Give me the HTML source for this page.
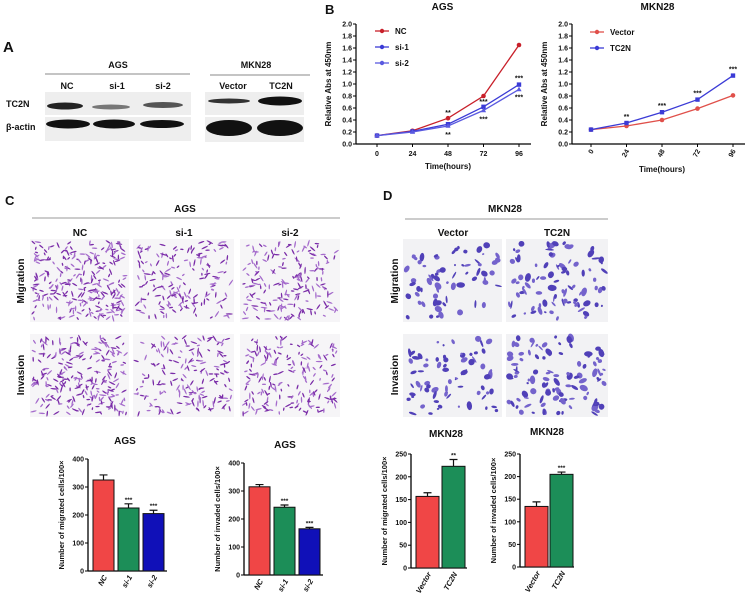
<!DOCTYPE html>
<html><head><meta charset="utf-8"><style>
html,body{margin:0;padding:0;background:#fff;width:753px;height:602px;overflow:hidden}
svg{display:block;font-family:"Liberation Sans",sans-serif}
text{font-weight:bold;fill:#111}
</style></head><body>
<svg id="fig" width="753" height="602" viewBox="0 0 753 602">
<g>
<text x="3" y="52" font-size="15" font-weight="normal">A</text>
<text x="118" y="68" font-size="9" text-anchor="middle">AGS</text>
<line x1="45" y1="74" x2="190" y2="74" stroke="#888"/>
<text x="256" y="68" font-size="9" text-anchor="middle">MKN28</text>
<line x1="210" y1="75" x2="310" y2="75" stroke="#888"/>
<text x="67" y="89" font-size="9" text-anchor="middle">NC</text>
<text x="117" y="89" font-size="9" text-anchor="middle">si-1</text>
<text x="163" y="89" font-size="9" text-anchor="middle">si-2</text>
<text x="233" y="89" font-size="9" text-anchor="middle">Vector</text>
<text x="281" y="89" font-size="9" text-anchor="middle">TC2N</text>
<text x="6" y="107" font-size="9">TC2N</text>
<text x="6" y="130" font-size="9">β-actin</text>
<rect x="45" y="92" width="146" height="23" fill="#eee"/>
<rect x="45" y="117" width="146" height="24" fill="#eee"/>
<rect x="205" y="92" width="99" height="23" fill="#eee"/>
<rect x="205" y="117" width="99" height="25" fill="#eee"/>
<ellipse cx="65" cy="106" rx="18" ry="3.5" fill="#222"/>
<ellipse cx="111" cy="107" rx="19" ry="2.5" fill="#777"/>
<ellipse cx="163" cy="105" rx="20" ry="3" fill="#555"/>
<ellipse cx="68" cy="124" rx="22" ry="4.5" fill="#111"/>
<ellipse cx="114" cy="124" rx="21" ry="4.5" fill="#111"/>
<ellipse cx="162" cy="124" rx="22" ry="4" fill="#111"/>
<ellipse cx="229" cy="101" rx="21" ry="2.5" fill="#333"/>
<ellipse cx="280" cy="101" rx="22" ry="4.5" fill="#111"/>
<ellipse cx="229" cy="128" rx="23" ry="8" fill="#111"/>
<ellipse cx="280" cy="128" rx="23" ry="8" fill="#111"/>
</g>
<text x="325" y="14" font-size="13" font-weight="normal">B</text>
<text x="5" y="205" font-size="13" font-weight="normal">C</text>
<text x="383" y="200" font-size="13" font-weight="normal">D</text>
<g id="micro">
<text x="185" y="212" font-size="10" text-anchor="middle">AGS</text>
<line x1="32" y1="218" x2="340" y2="218" stroke="#999"/>
<text x="80" y="236" font-size="10" text-anchor="middle">NC</text>
<text x="184" y="236" font-size="10" text-anchor="middle">si-1</text>
<text x="290" y="236" font-size="10" text-anchor="middle">si-2</text>
<text x="505" y="212" font-size="10" text-anchor="middle">MKN28</text>
<line x1="405" y1="219" x2="608" y2="219" stroke="#999"/>
<text x="453" y="236" font-size="10" text-anchor="middle">Vector</text>
<text x="557" y="236" font-size="10" text-anchor="middle">TC2N</text>
<text transform="translate(24,281) rotate(-90)" font-size="10" text-anchor="middle">Migration</text>
<text transform="translate(24,375) rotate(-90)" font-size="10" text-anchor="middle">Invasion</text>
<text transform="translate(398,281) rotate(-90)" font-size="10" text-anchor="middle">Migration</text>
<text transform="translate(398,375) rotate(-90)" font-size="10" text-anchor="middle">Invasion</text>
</g>
<g id="charts"></g>
</svg>
<script>
const timePoints=[0,24,48,72,96];
const agsNC=[0.14,0.22,0.43,0.80,1.65];
const agsSi1=[0.14,0.21,0.33,0.62,0.99];
const agsSi2=[0.14,0.20,0.30,0.56,0.91];
const mknVector=[0.24,0.30,0.40,0.59,0.81];
const mknTC2N=[0.24,0.35,0.53,0.74,1.14];
const lineYTicks=[0,0.2,0.4,0.6,0.8,1.0,1.2,1.4,1.6,1.8,2.0];
const agsGroups=["NC","si-1","si-2"];
const migAGS=[325,225,205]; const migAGSErr=[18,15,12];
const invAGS=[315,242,165]; const invAGSErr=[8,8,5];
const mknGroups=["Vector","TC2N"];
const migMKN=[157,223]; const migMKNErr=[8,15];
const invMKN=[134,205]; const invMKNErr=[10,5];
const agsStars=["","***","***"]; const mknMigStars=["","**"]; const mknInvStars=["","***"];

const NS="http://www.w3.org/2000/svg";
const root=document.getElementById('charts');
function mk(tag,attrs,parent,txt){const e=document.createElementNS(NS,tag);for(const k in attrs)e.setAttribute(k,attrs[k]);if(txt!==undefined)e.textContent=txt;(parent||root).appendChild(e);return e;}

let seed=7;function rnd(){seed=(seed*16807)%2147483647;return seed/2147483647;}
const micro=document.getElementById('micro');
function panel(x,y,w,h,n,big,name){
  const r=mk('rect',{x:x,y:y,width:w,height:h,fill:big?'#f2f2f4':'#f6f5f7'},micro);
  
  
  const g=mk('g',{},micro);
  
  
  for(let i=0;i<n;i++){const cx=x+3+rnd()*(w-6),cy=y+3+rnd()*(h-6);
    if(big){mk('ellipse',{cx:cx,cy:cy,rx:1+rnd()*3.5,ry:0.8+rnd()*2.3,fill:rnd()<0.5?'#5040b8':'#7463cc',transform:`rotate(${rnd()*180} ${cx} ${cy})`},g);}
    else{mk('ellipse',{cx:cx,cy:cy,rx:1.5+rnd()*2.2,ry:0.7,fill:rnd()<0.5?'#7a2ca8':'#a56ccc',transform:`rotate(${rnd()*180} ${cx} ${cy})`},g);}
  }
}
[[30,99,'nc'],[133,101,'si1'],[240,100,'si2']].forEach((c,i)=>{
  panel(c[0],239,c[1],83,[260,170,180][i],false,'c-migration-'+c[2]);
  panel(c[0],334,c[1],83,[240,170,190][i],false,'c-invasion-'+c[2]);
});
[[403,99,'vector'],[506,102,'tc2n']].forEach((c,i)=>{
  panel(c[0],239,c[1],83,[65,90][i],true,'d-migration-'+c[2]);
  panel(c[0],334,c[1],83,[70,105][i],true,'d-invasion-'+c[2]);
});

function lineChart(o){
  const g=mk('g',{});
  
  
  const sx=v=>o.x0+(v-timePoints[0])/(timePoints[timePoints.length-1]-timePoints[0])*(o.x1-o.x0);
  const sy=v=>o.yb-(v/2.0)*(o.yb-o.yt);
  const t=mk('text',{x:(o.ax+o.x1+10)/2,y:10,'font-size':10,'text-anchor':'middle'},g,o.title);
  
  
  const ya=mk('line',{x1:o.ax,y1:o.yt,x2:o.ax,y2:o.yb,stroke:'#000','stroke-width':1.2},g);
  
  
  const xa=mk('line',{x1:o.ax,y1:o.yb,x2:o.x1+12,y2:o.yb,stroke:'#000','stroke-width':1.2},g);
  
  
  lineYTicks.forEach(v=>{mk('line',{x1:o.ax-3,y1:sy(v),x2:o.ax,y2:sy(v),stroke:'#000'},g);
    const l=mk('text',{x:o.ax-4,y:sy(v)+2.5,'font-size':7,'text-anchor':'end'},g,v.toFixed(1));
    
    });
  timePoints.forEach(v=>{mk('line',{x1:sx(v),y1:o.yb,x2:sx(v),y2:o.yb+3,stroke:'#000'},g);
    const l=o.rot?mk('text',{transform:`translate(${sx(v)+3},${o.yb+7}) rotate(-60)`,'font-size':7,'text-anchor':'end'},g,v):
      mk('text',{x:sx(v),y:o.yb+12,'font-size':7,'text-anchor':'middle'},g,v);
    
    });
  const xt=mk('text',{x:(o.x0+o.x1)/2,y:o.rot?172:169,'font-size':8,'text-anchor':'middle'},g,'Time(hours)');
  
  
  const yt=mk('text',{transform:`translate(${o.ax-25},${(o.yt+o.yb)/2}) rotate(-90)`,'font-size':8,'text-anchor':'middle'},g,'Relative Abs at 450nm');
  
  
  o.series.forEach((s,si)=>{
    const p=mk('polyline',{points:s.v.map((v,i)=>sx(timePoints[i])+','+sy(v)).join(' '),fill:'none',stroke:s.c,'stroke-width':1.3},g);
    
    
    s.v.forEach((v,i)=>{let m;
      if(s.m==='c')m=mk('circle',{cx:sx(timePoints[i]),cy:sy(v),r:2.3,fill:s.c},g);
      else if(s.m==='s')m=mk('rect',{x:sx(timePoints[i])-2.2,y:sy(v)-2.2,width:4.4,height:4.4,fill:s.c},g);
      else m=mk('polygon',{points:`${sx(timePoints[i])},${sy(v)-2.8} ${sx(timePoints[i])-2.6},${sy(v)+1.8} ${sx(timePoints[i])+2.6},${sy(v)+1.8}`,fill:s.c},g);
      
      });
    const ly=o.legY+si*16;
    const ll=mk('line',{x1:o.legX,y1:ly,x2:o.legX+14,y2:ly,stroke:s.c,'stroke-width':1.3},g);
    
    
    mk('circle',{cx:o.legX+7,cy:ly,r:2.2,fill:s.c},g);
    const lt=mk('text',{x:o.legX+20,y:ly+3,'font-size':8},g,s.n);
    
    
  });
  (o.stars||[]).forEach(st=>{const s=mk('text',{x:sx(timePoints[st.i]),y:sy(st.v)+st.dy,'font-size':7,'text-anchor':'middle'},g,st.t);
    
    });
}
lineChart({name:'ags-growth-chart',title:'AGS',ax:356,x0:377,x1:519,yt:24,yb:144,legX:375,legY:31,rot:false,
  series:[{n:'NC',v:agsNC,c:'#c8202a',m:'c'},{n:'si-1',v:agsSi1,c:'#3b3bd6',m:'s'},{n:'si-2',v:agsSi2,c:'#5a5ae0',m:'t'}],
  stars:[{i:2,v:agsNC[2],dy:-3,t:'**'},{i:2,v:agsSi2[2],dy:11,t:'**'},{i:3,v:agsSi1[3],dy:-3,t:'***'},{i:3,v:agsSi2[3],dy:11,t:'***'},{i:4,v:agsSi1[4],dy:-4,t:'***'},{i:4,v:agsSi2[4],dy:10,t:'***'}]});
lineChart({name:'mkn28-growth-chart',title:'MKN28',ax:572,x0:591,x1:733,yt:24,yb:144,legX:590,legY:32,rot:true,
  series:[{n:'Vector',v:mknVector,c:'#e0504a',m:'c'},{n:'TC2N',v:mknTC2N,c:'#3b3bd6',m:'s'}],
  stars:[{i:1,v:mknTC2N[1],dy:-4,t:'**'},{i:2,v:mknTC2N[2],dy:-4,t:'***'},{i:3,v:mknTC2N[3],dy:-4,t:'***'},{i:4,v:mknTC2N[4],dy:-4,t:'***'}]});

function barChart(o){
  const g=mk('g',{});
  
  
  const sy=v=>o.yb-v/o.max*(o.yb-o.yt);
  const t=mk('text',{x:o.tx,y:o.ty,'font-size':10,'text-anchor':'middle'},g,o.title);
  
  
  const ya=mk('line',{x1:o.ax,y1:o.yt,x2:o.ax,y2:o.yb,stroke:'#000','stroke-width':1.3},g);
  
  
  const xa=mk('line',{x1:o.ax,y1:o.yb,x2:o.ax+4+o.vals.length*o.step,y2:o.yb,stroke:'#000','stroke-width':1.3},g);
  
  
  o.ticks.forEach(v=>{mk('line',{x1:o.ax-3,y1:sy(v),x2:o.ax,y2:sy(v),stroke:'#000'},g);
    const l=mk('text',{x:o.ax-4,y:sy(v)+2.5,'font-size':7,'text-anchor':'end'},g,v);
    
    });
  const yt=mk('text',{transform:`translate(${o.ax-24},${(o.yt+o.yb)/2}) rotate(-90)`,'font-size':7.5,'text-anchor':'middle'},g,o.ylab);
  
  
  o.vals.forEach((v,i)=>{
    const x=o.ax+5+i*o.step;
    const b=mk('rect',{x:x,y:sy(v),width:o.bw,height:o.yb-sy(v),fill:o.colors[i],stroke:'#111','stroke-width':1},g);
    
    
    const cx=x+o.bw/2,top=sy(v+o.errs[i]);
    const e=mk('path',{d:`M${cx},${sy(v)}V${top}M${cx-4},${top}H${cx+4}`,stroke:'#111','stroke-width':1.2,fill:'none'},g);
    
    
    if(o.stars[i]){const s=mk('text',{x:cx,y:top-2,'font-size':6.5,'text-anchor':'middle'},g,o.stars[i]);
      
      }
    const l=mk('text',{transform:`translate(${cx+4},${o.yb+6}) rotate(-60)`,'font-size':7.5,'font-style':'italic','text-anchor':'end'},g,o.cats[i]);
    
    
  });
}
const agsColors=['#f04646','#1c8e58','#1010b8'],mknColors=['#f04646','#1c8e58'];
barChart({name:'ags-migration-bars',title:'AGS',tx:125,ty:444,ax:88,yt:459,yb:571,max:400,ticks:[0,100,200,300,400],vals:migAGS,errs:migAGSErr,cats:agsGroups,colors:agsColors,stars:agsStars,bw:21,step:25,ylab:'Number of migrated cells/100×'});
barChart({name:'ags-invasion-bars',title:'AGS',tx:285,ty:448,ax:244,yt:463,yb:575,max:400,ticks:[0,100,200,300,400],vals:invAGS,errs:invAGSErr,cats:agsGroups,colors:agsColors,stars:agsStars,bw:21,step:25,ylab:'Number of invaded cells/100×'});
barChart({name:'mkn28-migration-bars',title:'MKN28',tx:446,ty:437,ax:411,yt:454,yb:568,max:250,ticks:[0,50,100,150,200,250],vals:migMKN,errs:migMKNErr,cats:mknGroups,colors:mknColors,stars:mknMigStars,bw:23,step:26,ylab:'Number of migrated cells/100×'});
barChart({name:'mkn28-invasion-bars',title:'MKN28',tx:547,ty:435,ax:520,yt:454,yb:567,max:250,ticks:[0,50,100,150,200,250],vals:invMKN,errs:invMKNErr,cats:mknGroups,colors:mknColors,stars:mknInvStars,bw:23,step:25,ylab:'Number of invaded cells/100×'});
</script>
</body></html>
